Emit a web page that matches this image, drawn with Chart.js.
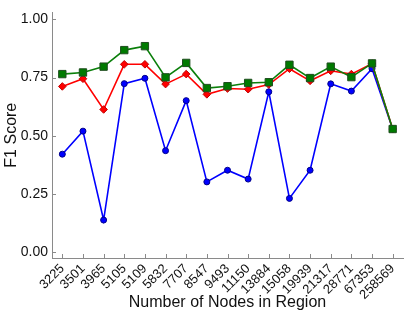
<!DOCTYPE html>
<html>
<head>
<meta charset="utf-8">
<script src="https://cdn.jsdelivr.net/npm/chart.js@4/dist/chart.umd.min.js"></script>
<style>
  html, body { margin: 0; padding: 0; background: #fff; }
  #wrap { width: 415px; height: 312px; position: relative; }
</style>
</head>
<body>
<div id="wrap"><canvas id="c"></canvas></div>
<script>
const categories = ["3225","3501","3965","5105","5109","5832","7707","8547","9493","11150","13884","15058","19939","21317","28771","67353","258569"];
const greenValues = [0.765,0.772,0.797,0.868,0.885,0.751,0.813,0.705,0.713,0.727,0.730,0.805,0.748,0.797,0.752,0.811,0.529];
const redValues   = [0.712,0.745,0.613,0.807,0.807,0.722,0.765,0.678,0.703,0.700,0.720,0.788,0.736,0.779,0.765,0.810,0.529];
const blueValues  = [0.421,0.520,0.138,0.724,0.747,0.436,0.651,0.302,0.352,0.314,0.689,0.231,0.352,0.723,0.692,0.788,0.529];
const yTicks = [0, 0.25, 0.5, 0.75, 1.0];

const AXIS_COLOR = '#8a8a8a';
const FONT = "'Liberation Sans', Arial, sans-serif";

const innerTicks = {
  id: 'innerTicks',
  afterDatasetsDraw(chart) {
    const ctx = chart.ctx;
    const x = chart.scales.x, y = chart.scales.y;
    ctx.save();
    ctx.strokeStyle = AXIS_COLOR;
    ctx.lineWidth = 1;
    ctx.beginPath();
    for (let i = 0; i < x.ticks.length; i++) {
      const px = Math.round(x.getPixelForTick(i)) + 0.5;
      ctx.moveTo(px, y.bottom);
      ctx.lineTo(px, y.bottom - 4);
    }
    for (const v of yTicks) {
      const py = Math.round(y.getPixelForValue(v)) + 0.5;
      ctx.moveTo(x.left, py);
      ctx.lineTo(x.left + 4, py);
    }
    ctx.stroke();
    ctx.restore();
  }
};

new Chart(document.getElementById('c'), {
  type: 'line',
  data: {
    labels: categories,
    datasets: [
      {
        label: 'green', data: greenValues,
        borderColor: '#0a7f0a', backgroundColor: '#007a00',
        pointBorderColor: '#1e4d1e', pointBorderWidth: 1,
        pointStyle: 'rect', pointRadius: 5.2, borderWidth: 1.6, tension: 0
      },
      {
        label: 'red', data: redValues,
        borderColor: '#ff0000', backgroundColor: '#ff0000',
        pointBorderColor: '#c00000', pointBorderWidth: 1,
        pointStyle: 'rectRot', pointRadius: 3.8, borderWidth: 1.6, tension: 0
      },
      {
        label: 'blue', data: blueValues,
        borderColor: '#0000ff', backgroundColor: '#0000ff',
        pointBorderColor: '#00008b', pointBorderWidth: 1,
        pointStyle: 'circle', pointRadius: 3, borderWidth: 1.6, tension: 0
      }
    ]
  },
  options: {
    responsive: true,
    maintainAspectRatio: false,
    animation: false,
    devicePixelRatio: 1,
    layout: { padding: { left: 0, right: 12, top: 8, bottom: 0 } },
    plugins: { legend: { display: false }, tooltip: { enabled: false } },
    scales: {
      x: {
        type: 'category',
        offset: true,
        grid: { display: false, drawTicks: false },
        border: { display: true, color: AXIS_COLOR, width: 1 },
        ticks: {
          color: '#111', font: { family: FONT, size: 13 },
          minRotation: 45, maxRotation: 45, padding: 3, autoSkip: false
        },
        title: {
          display: true, text: 'Number of Nodes in Region',
          color: '#111', font: { family: FONT, size: 16 }, padding: { top: 0, bottom: 0 }
        },
        afterFit(scale) { scale.height = 54; }
      },
      y: {
        min: -0.025, max: 1.03,
        grid: { display: false, drawTicks: false },
        border: { display: true, color: AXIS_COLOR, width: 1 },
        afterBuildTicks(axis) { axis.ticks = yTicks.map(v => ({ value: v })); },
        ticks: {
          color: '#111', font: { family: FONT, size: 14 }, padding: 4,
          callback: v => Number(v).toFixed(2)
        },
        title: {
          display: true, text: 'F1 Score',
          color: '#111', font: { family: FONT, size: 16 }, padding: { top: 2, bottom: 0 }
        },
        afterFit(scale) { scale.width = 52; }
      }
    }
  },
  plugins: [innerTicks]
});
</script>
</body>
</html>
